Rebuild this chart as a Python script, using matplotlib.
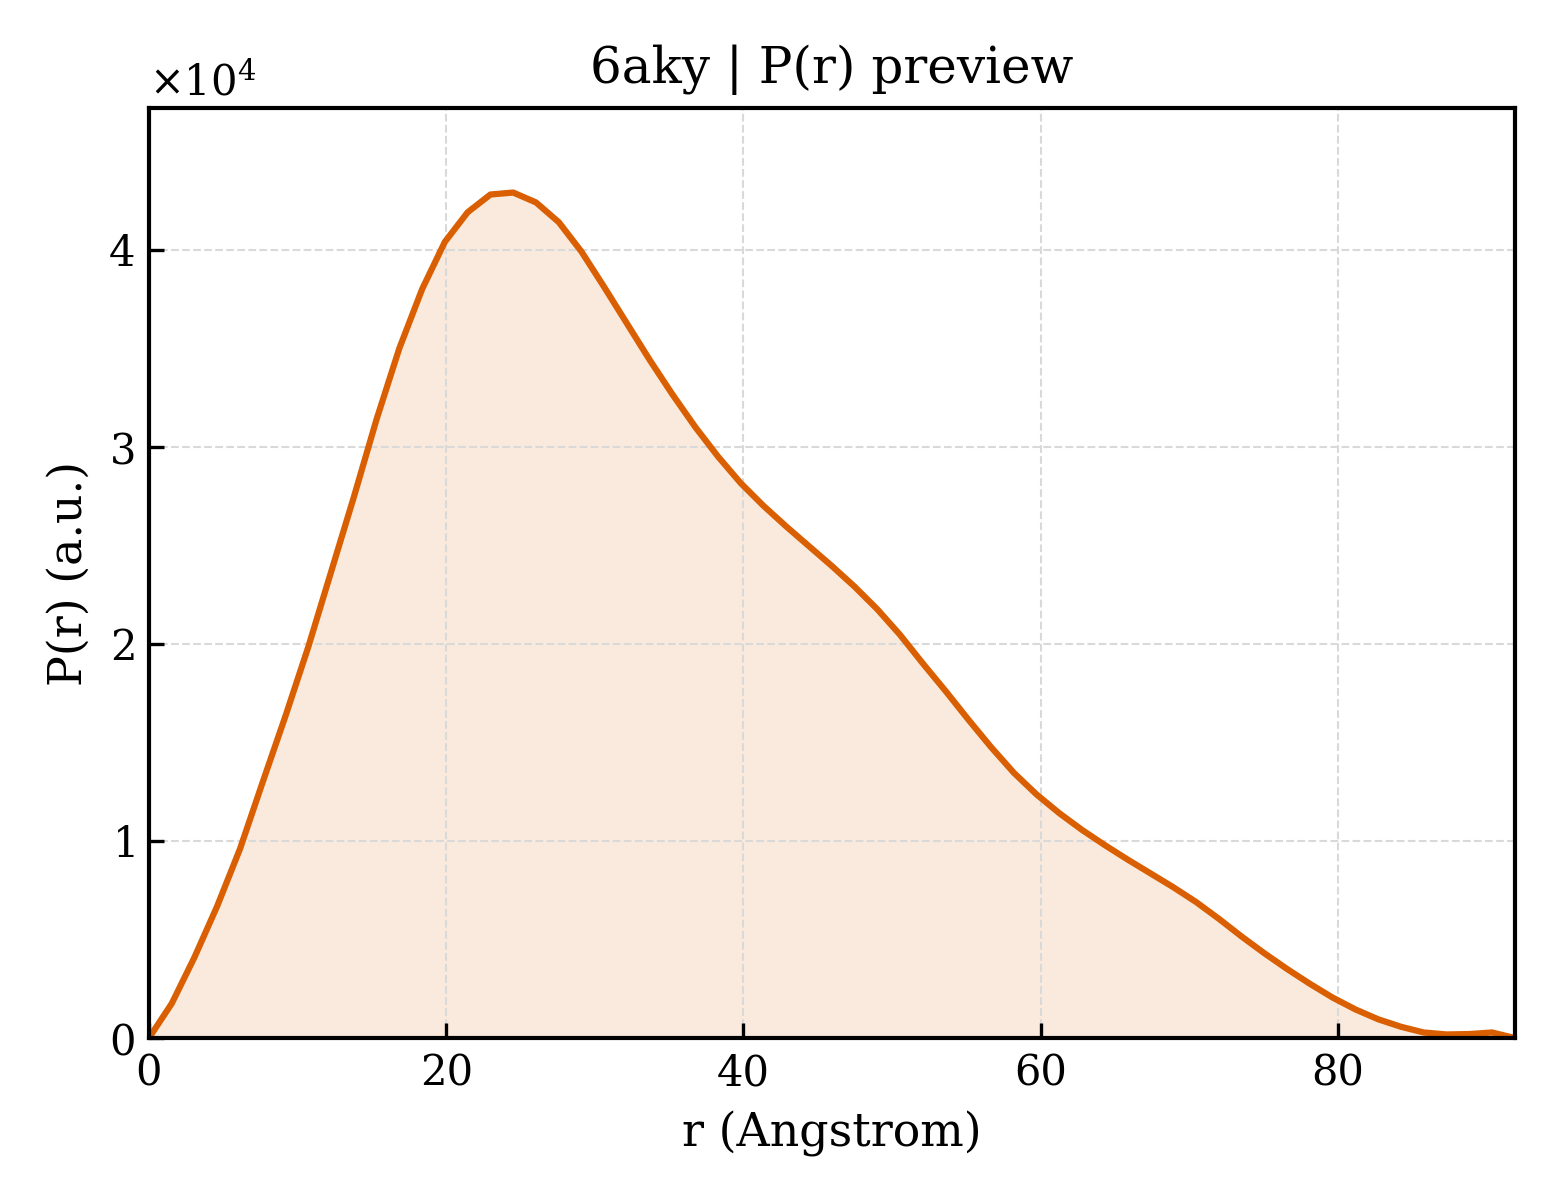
import numpy as np
import matplotlib
matplotlib.use("Agg")
import matplotlib.pyplot as plt

plt.rcParams["font.family"] = ["DejaVu Serif"]
plt.rcParams["mathtext.fontset"] = "dejavuserif"

d_max = 91.9
r = np.linspace(0, d_max, 61)
pr = np.array([
    0.0, 0.175, 0.41, 0.67, 0.96, 1.30, 1.635, 1.985, 2.365, 2.745,
    3.14, 3.50, 3.80, 4.04, 4.19, 4.28, 4.29, 4.24, 4.14, 3.99,
    3.81, 3.625, 3.44, 3.265, 3.10, 2.95, 2.815, 2.70, 2.595, 2.495,
    2.395, 2.29, 2.175, 2.045, 1.90, 1.76, 1.615, 1.475, 1.345, 1.235,
    1.14, 1.055, 0.978, 0.905, 0.835, 0.765, 0.69, 0.605, 0.515, 0.43,
    0.35, 0.275, 0.205, 0.145, 0.095, 0.057, 0.028, 0.018, 0.02, 0.028,
    0.0,
]) * 1e4

color = "#d95f02"

fig, ax = plt.subplots(figsize=(5.2, 4), dpi=300)
fig.subplots_adjust(left=0.0955, right=0.971, top=0.91, bottom=0.135)

ax.fill_between(r, pr, 0, color=color, alpha=0.13, linewidth=0)
ax.plot(r, pr, color=color, lw=1.5)

ax.set_xlim(0, d_max)
ax.set_ylim(0, pr.max() * 1.1)
ax.set_xlabel("r (Angstrom)", fontsize=11)
ax.set_ylabel("P(r) (a.u.)", fontsize=11)
ax.set_title("6aky | P(r) preview", fontsize=12)

ax.ticklabel_format(axis="y", style="sci", scilimits=(0, 0), useMathText=True)
ax.yaxis.get_offset_text().set_fontsize(10)
ax.tick_params(direction="in", labelsize=10)
ax.grid(True, ls="--", lw=0.5, color="0.85")
for s in ax.spines.values():
    s.set_linewidth(1.0)

fig.savefig("out.png", dpi=300)
